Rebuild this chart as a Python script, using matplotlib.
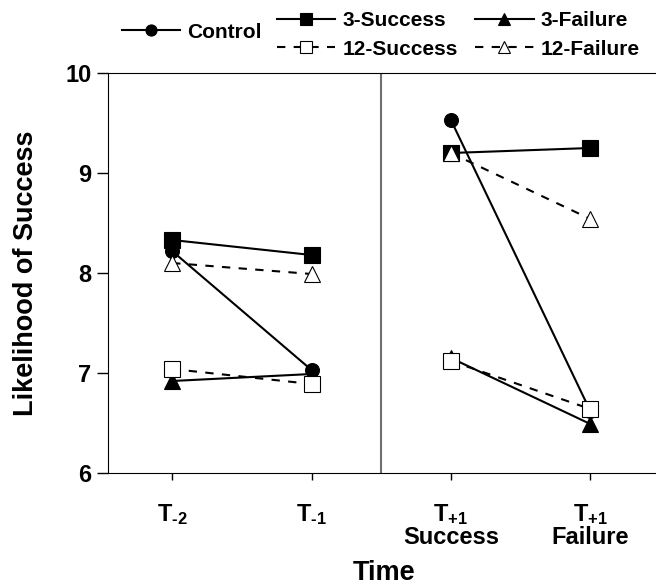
import matplotlib.pyplot as plt
from matplotlib.lines import Line2D

plt.rcParams['font.family'] = ['Liberation Sans', 'DejaVu Sans']
plt.rcParams['font.weight'] = 'bold'
plt.rcParams['mathtext.fontset'] = 'custom'
plt.rcParams['mathtext.rm'] = 'Liberation Sans:bold'
plt.rcParams['mathtext.bf'] = 'Liberation Sans:bold'
plt.rcParams['mathtext.default'] = 'bf'

# ----------------------------
# Data
# ----------------------------
pre_x = [1, 2]
post_x = [3, 4]
tick_labels = ["T$_{\\text{-2}}$", "T$_{\\text{-1}}$",
               "T$_{\\text{+1}}$\nSuccess", "T$_{\\text{+1}}$\nFailure"]

control_pre = [8.22, 7.03]
control_post = [9.53, 6.62]
s3_pre = [8.33, 8.18]
s3_post = [9.20, 9.25]
f3_pre = [6.92, 6.99]
f3_post = [7.15, 6.49]
s12_pre = [7.04, 6.89]
s12_post = [7.12, 6.64]
f12_pre = [8.10, 7.99]
f12_post = [9.20, 8.54]

series = [
    ("Control", control_pre, control_post, "o", "black", "-", 10),
    ("3-Success", s3_pre, s3_post, "s", "black", "-", 11),
    ("3-Failure", f3_pre, f3_post, "^", "black", "-", 11),
    ("12-Success", s12_pre, s12_post, "s", "white", "--", 11),
    ("12-Failure", f12_pre, f12_post, "^", "white", "--", 11),
]

fig = plt.figure(figsize=(6.56, 5.85), dpi=100)
ax = fig.add_axes([108 / 656, 112 / 585, 552 / 656, 400 / 585])

handles = {}
for name, pre, post, mk, fc, ls, ms in series:
    kw = dict(color="black", marker=mk, markerfacecolor=fc, markeredgecolor="black",
              markeredgewidth=0.8, markersize=ms, linewidth=1.5, linestyle=ls)
    if ls == "--":
        kw["dashes"] = (4, 4)
    ax.plot(pre_x, pre, **kw)
    ax.plot(post_x, post, **kw)
    kw["markersize"] = ms * 0.8
    handles[name] = Line2D([], [], **kw)

ax.axvline(2.5, color="#707070", linewidth=1.5)

ax.set_xlim(0.54, 4.5)
ax.set_ylim(6, 10)
ax.set_yticks([6, 7, 8, 9, 10])
ax.set_xticks([1, 2, 3, 4])
ax.set_xticklabels(tick_labels, fontsize=17, fontweight="bold", linespacing=0.95)
ax.tick_params(axis="y", labelsize=17, direction="out", length=8, width=1, pad=4)
ax.tick_params(axis="x", direction="out", length=5, width=1, pad=16)
for t in ax.get_yticklabels():
    t.set_fontweight("bold")
ax.spines["right"].set_visible(False)

ax.set_ylabel("Likelihood of Success", fontsize=19.5, fontweight="bold")
ax.yaxis.set_label_coords(-0.125, 0.5)
ax.set_xlabel("Time", fontsize=19.5, fontweight="bold")
ax.xaxis.set_label_coords(0.5, -0.218)

prop = dict(size=15, weight="bold")
fig.legend([handles["Control"]], ["Control"], loc="center left",
           bbox_to_anchor=(122 / 656, 1 - 32 / 585), frameon=False,
           handlelength=2.8, handletextpad=0.33, borderaxespad=0, borderpad=0,
           prop=prop)
fig.legend([handles["3-Success"], handles["12-Success"],
            handles["3-Failure"], handles["12-Failure"]],
           ["3-Success", "12-Success", "3-Failure", "12-Failure"],
           ncol=2, loc="center left", bbox_to_anchor=(277 / 656, 1 - 35 / 585),
           frameon=False, handlelength=2.8, handletextpad=0.33, columnspacing=0.85,
           labelspacing=0.45, borderaxespad=0, borderpad=0, prop=prop)

fig.savefig("out.png", dpi=100)
